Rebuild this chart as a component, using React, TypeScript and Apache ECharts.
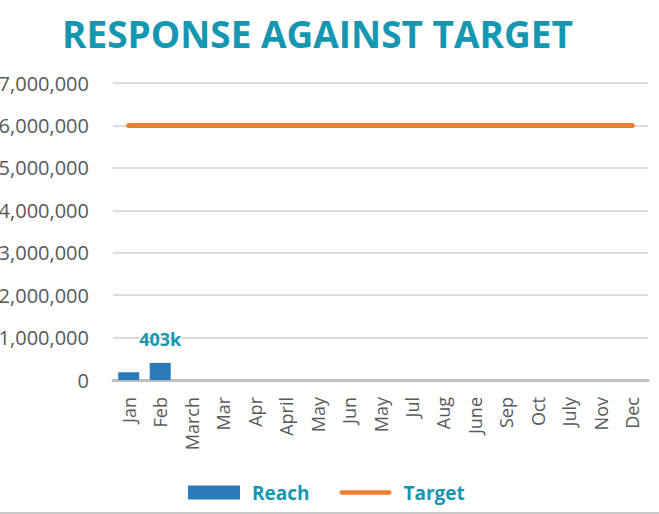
import React, { useEffect, useRef } from "react";
import * as echarts from "echarts";

const categories = ["Jan", "Feb", "March", "Mar", "Apr", "April", "May", "Jun", "May", "Jul", "Aug", "June", "Sep", "Oct", "July", "Nov", "Dec"];
const reachValues: (number | null)[] = [185000, 403000, null, null, null, null, null, null, null, null, null, null, null, null, null, null, null];
const targetValues = [6000000, 6000000, 6000000, 6000000, 6000000, 6000000, 6000000, 6000000, 6000000, 6000000, 6000000, 6000000, 6000000, 6000000, 6000000, 6000000, 6000000];
const labeledIndex = 1;
const labelText = "403k";
const yMin = 0;
const yMax = 7000000;
const yInterval = 1000000;

const TEAL = "#1597B2";
const FONT = "'Open Sans', 'Noto Sans', sans-serif";

export default function App() {
  const ref = useRef<HTMLDivElement>(null);
  useEffect(() => {
    if (!ref.current) return;
    const chart = echarts.init(ref.current, undefined, { renderer: "svg" });
    chart.setOption({
      animation: false,
      backgroundColor: "#ffffff",
      title: {
        text: "RESPONSE AGAINST TARGET",
        left: 62,
        top: 15,
        padding: 0,
        textStyle: { fontFamily: FONT, fontSize: 37, fontWeight: "bold", color: TEAL },
      },
      grid: { left: 113, right: 11, top: 83, bottom: 134, containLabel: false, outerBoundsMode: "none" },
      legend: {
        left: 188,
        top: 483,
        padding: 0,
        itemWidth: 52,
        itemHeight: 14,
        itemGap: 30,
        textStyle: { fontFamily: FONT, fontSize: 19, fontWeight: "bold", color: TEAL, padding: [0, 0, 0, 7] },
        data: [
          { name: "Reach", icon: "rect" },
          { name: "Target", icon: "path://M2.5,0 L53.5,0 Q56,0 56,2.5 Q56,5 53.5,5 L2.5,5 Q0,5 0,2.5 Q0,0 2.5,0 Z" },
        ],
      },
      xAxis: {
        type: "category",
        data: categories,
        axisLine: { lineStyle: { color: "#BFBFBF", width: 3 } },
        axisTick: { show: false },
        axisLabel: { rotate: 90, margin: 17, fontFamily: FONT, fontSize: 18, color: "#595959", interval: 0 },
      },
      yAxis: {
        type: "value",
        min: yMin,
        max: yMax,
        interval: yInterval,
        axisLine: { show: false },
        axisTick: { show: false },
        splitLine: { lineStyle: { color: "#DDDDDD", width: 2 } },
        axisLabel: {
          margin: 24,
          fontFamily: FONT,
          fontSize: 20,
          color: "#595959",
          formatter: (v: number) => v.toLocaleString("en-US"),
        },
      },
      series: [
        {
          name: "Reach",
          type: "bar",
          barWidth: 21,
          itemStyle: { color: "#2B7BBA" },
          data: reachValues.map((v, i) =>
            i === labeledIndex
              ? {
                  value: v,
                  label: {
                    show: true,
                    position: "top",
                    distance: 15,
                    formatter: labelText,
                    fontFamily: FONT,
                    fontSize: 18,
                    fontWeight: "bold",
                    color: TEAL,
                  },
                }
              : v
          ),
        },
        {
          name: "Target",
          type: "line",
          symbol: "none",
          lineStyle: { color: "#ED7D31", width: 5, cap: "round" },
          itemStyle: { color: "#ED7D31" },
          data: targetValues,
        },
      ],
      graphic: [
        {
          type: "rect",
          left: 0,
          top: 512,
          shape: { width: 659, height: 2 },
          style: { fill: "#C8C8C8" },
          silent: true,
        },
      ],
    });
    return () => chart.dispose();
  }, []);
  return <div ref={ref} style={{ position: "fixed", left: 0, top: 0, width: 659, height: 514 }} />;
}
